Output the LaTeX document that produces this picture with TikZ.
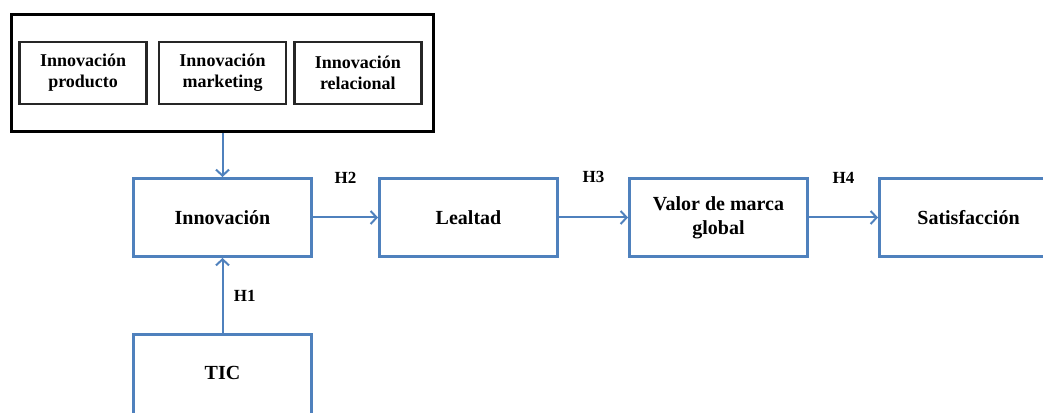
\documentclass[tikz,border=0pt]{standalone}
\usepackage{fontspec}
\setmainfont{Liberation Serif}
\usetikzlibrary{
    arrows.meta,
    positioning
}
\definecolor{boxblue}{RGB}{79,129,189}

\begin{document}
\begin{tikzpicture}[
    x=1pt, y=1pt,
    conceptnode/.style = {rectangle, draw=boxblue, line width=3pt,
                          minimum width=178pt, minimum height=78pt,
                          align=center,
                          font=\fontsize{20}{24}\selectfont\bfseries},
    groupnode/.style = {rectangle, draw=black, line width=3pt,
                        minimum width=422pt, minimum height=117pt},
    subnode/.style = {rectangle, draw=black!85, line width=2.4pt,
                      minimum width=127pt, minimum height=62pt,
                      align=center,
                      font=\fontsize{18}{21}\selectfont\bfseries},
    hlabel/.style = {font=\fontsize{17}{18}\selectfont\bfseries},
    pathArrow/.style = {draw=boxblue, line width=2pt,
                        -{Straight Barb[length=6pt, width=13pt]}}
]
    \useasboundingbox (0,0) rectangle (1043,412);
    \clip (0,0) rectangle (1043,412);

    \node[conceptnode] (INN) at (222.5,194.5) {Innovación};
    \node[conceptnode] (LEA) [right=65pt of INN] {Lealtad};
    \node[conceptnode] (VMG) [right=69pt of LEA] {Valor de marca\\global};
    \node[conceptnode] (SAT) [right=69pt of VMG] {Satisfacción};
    \node[conceptnode, minimum height=96pt, text depth=20pt] (TIC) [below=75pt of INN] {TIC};

    \node[groupnode] (GRP) [above=44pt of INN] {};
    \node[subnode] (IMK) at (GRP.center) {Innovación\\marketing};
    \node[subnode] (IPR) [left=10pt of IMK] {Innovación\\producto};
    \node[subnode] (IRE) [right=6pt of IMK] {Innovación\\relacional};

    \draw[pathArrow] (GRP.south) -- (INN.north);
    \draw[pathArrow] (TIC.north) -- node[hlabel, right=7pt] (H1) {H1} (INN.south);
    \draw[pathArrow] (INN.east) -- node[hlabel, above=30pt] (H2) {H2} (LEA.west);
    \draw[pathArrow] (LEA.east) -- node[hlabel, above=30pt] (H3) {H3} (VMG.west);
    \draw[pathArrow] (VMG.east) -- node[hlabel, above=30pt] (H4) {H4} (SAT.west);

\end{tikzpicture}
\end{document}
